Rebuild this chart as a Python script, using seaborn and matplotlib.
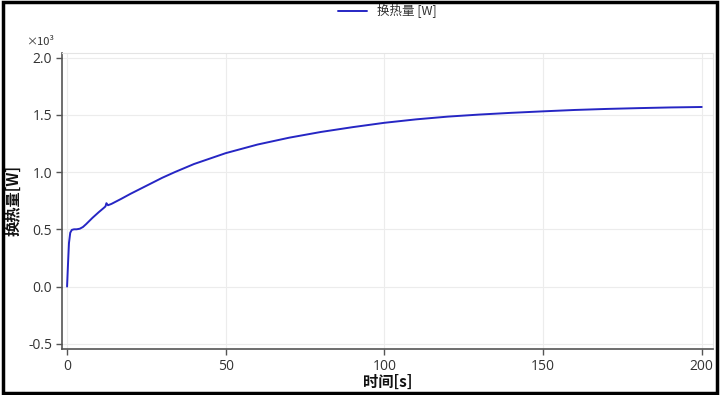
import matplotlib.pyplot as plt
import matplotlib.patches as patches
import matplotlib.ticker as mticker
import pandas as pd
import seaborn as sns

# time [s] and heat transfer [W]
time_s = [0, 0.3, 0.6, 1.0, 1.5, 2.2, 3.0, 4.0, 5.0, 6.0, 8.0, 10.0, 11.5, 12.1,
          12.4, 12.9, 14.0, 17.0, 20.0, 25.0, 30.0, 34.0, 40.0, 50.0, 60.0,
          70.0, 80.0, 90.0, 100.0, 110.0, 120.0, 130.0, 140.0, 150.0, 160.0,
          170.0, 180.0, 190.0, 200.0]
heat_w = [0, 200, 380, 470, 495, 500, 500, 505, 520, 545, 600, 650, 685, 700,
          728, 710, 722, 765, 810, 880, 950, 1000, 1070, 1165, 1240,
          1300, 1350, 1392, 1430, 1460, 1484, 1502, 1517, 1530, 1542,
          1551, 1558, 1564, 1568]

x_ticks = [0, 50, 100, 150, 200]
y_ticks = [-500, 0, 500, 1000, 1500, 2000]

df = pd.DataFrame({"time": time_s, "heat": heat_w})

sns.set_theme(style="whitegrid")
plt.rcParams["font.family"] = ["Open Sans", "Noto Sans CJK SC", "DejaVu Sans"]
cjk = ["Noto Sans CJK SC", "DejaVu Sans"]

fig = plt.figure(figsize=(7.2, 3.95), dpi=100)
ax = fig.add_axes([0.0861, 0.1165, 0.904, 0.7495])

sns.lineplot(data=df, x="time", y="heat", ax=ax, color="#2626c4",
             linewidth=1.4, label="换热量 [W]")

ax.set_xlim(-1.6, 203.5)
ax.set_ylim(-545, 2040)
ax.set_xticks(x_ticks)
ax.set_yticks(y_ticks)
ax.yaxis.set_major_formatter(mticker.FuncFormatter(lambda v, p: f"{v / 1000:.1f}"))

ax.grid(True, color="#ececec", linewidth=0.8)
for side in ["top", "right"]:
    ax.spines[side].set_color("#e4e4e4")
    ax.spines[side].set_linewidth(0.8)
for side in ["left", "bottom"]:
    ax.spines[side].set_color("#555555")
    ax.spines[side].set_linewidth(1.2)

ax.tick_params(axis="both", which="major", direction="out", length=4, width=1,
               color="#555555", labelsize=10, labelcolor="#333333", pad=3,
               left=True, bottom=True)

ax.set_xlabel("时间[s]", family=cjk, fontsize=11, fontweight="bold",
              color="#111111", labelpad=0)
ax.set_ylabel("换热量[W]", family=cjk, fontsize=11, fontweight="bold",
              color="#111111", labelpad=5)

fig.text(0.036, 0.885, "×10³", fontsize=8, color="#333333", family=cjk)

leg = ax.legend(loc="center", bbox_to_anchor=(0.5, 1.142), frameon=False,
                handlelength=2.3, prop={"family": cjk, "size": 9})
for t in leg.get_texts():
    t.set_color("#333333")

frame = patches.Rectangle((0.004, 0.006), 0.992, 0.988, transform=fig.transFigure,
                          fill=False, edgecolor="black", linewidth=2.5)
fig.patches.append(frame)

fig.savefig("out.png", dpi=100)
